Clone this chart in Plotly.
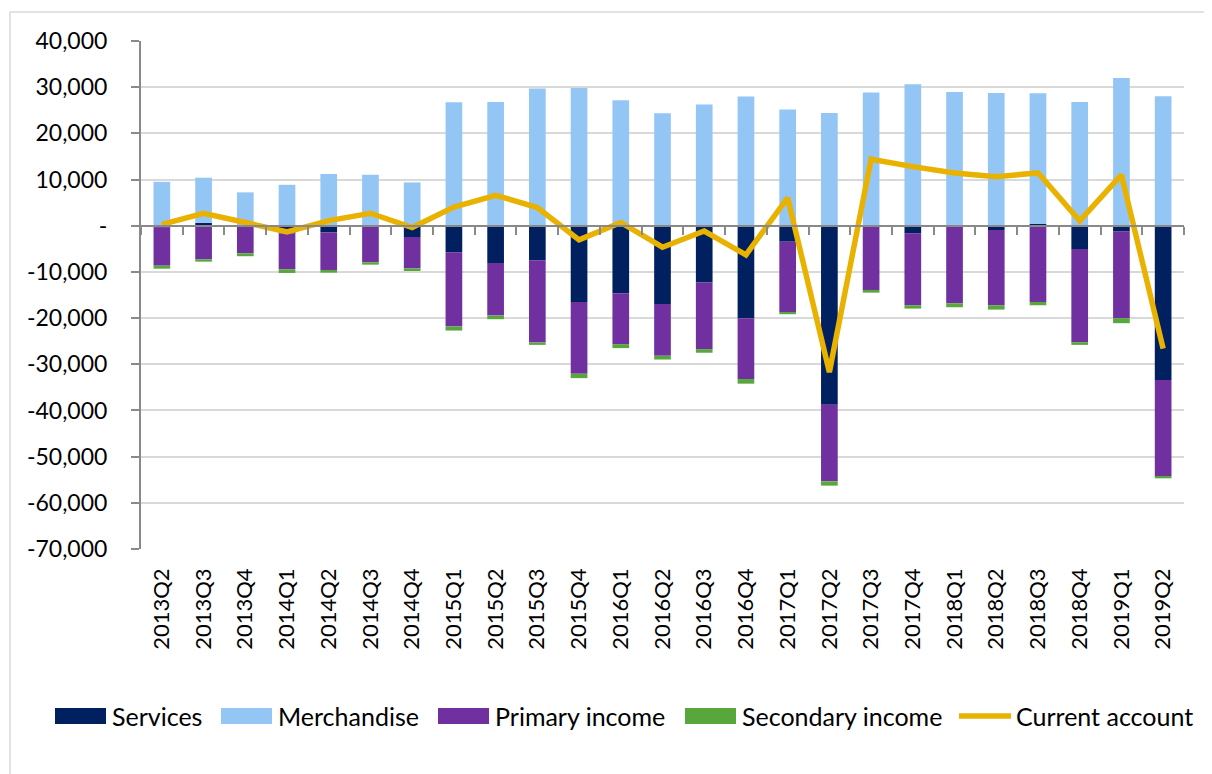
import plotly.graph_objects as go

quarters = ["2013Q2", "2013Q3", "2013Q4", "2014Q1", "2014Q2", "2014Q3", "2014Q4",
            "2015Q1", "2015Q2", "2015Q3", "2015Q4", "2016Q1", "2016Q2", "2016Q3",
            "2016Q4", "2017Q1", "2017Q2", "2017Q3", "2017Q4", "2018Q1", "2018Q2",
            "2018Q3", "2018Q4", "2019Q1", "2019Q2"]

services = [-300, 600, -100, -1700, -1430, -100, -2440, -5760, -8070, -7490, -16500,
            -14600, -16930, -12320, -20030, -3460, -38770, -100, -1650, -150, -930,
            350, -5040, -1220, -33430]

merchandise = [9500, 9800, 7220, 8860, 11180, 11030, 9380, 26750, 26800, 29700, 29840,
               27180, 24370, 26240, 27970, 25160, 24430, 28840, 30640, 28970, 28760,
               28340, 26800, 32000, 28040]

primary_income = [-8350, -7270, -5870, -7730, -8150, -7820, -6780, -16080, -11390, -17810,
                  -15560, -11050, -11240, -14410, -13170, -15270, -16580, -13800, -15570,
                  -16640, -16290, -16500, -20180, -18810, -20840]

secondary_income = [-650, -510, -630, -800, -580, -510, -580, -860, -780, -500, -940, -850,
                    -800, -770, -1000, -430, -930, -590, -720, -860, -940, -720, -580,
                    -1070, -430]

current_account = [300, 2700, 700, -1350, 1100, 2700, -400, 4050, 6600, 3950, -3050, 700,
                   -4650, -1150, -6300, 6050, -31700, 14400, 12800, 11400, 10600, 11470,
                   1050, 11000, -26600]

y_tick_values = [40000, 30000, 20000, 10000, 0, -10000, -20000, -30000, -40000,
                 -50000, -60000, -70000]
y_tick_labels = ["40,000", "30,000", "20,000", "10,000", "-", "-10,000", "-20,000",
                 "-30,000", "-40,000", "-50,000", "-60,000", "-70,000"]

series_names = ["Services", "Merchandise", "Primary income", "Secondary income",
                "Current account"]
series_colors = ["#002060", "#93C6F5", "#7030A0", "#58A73C", "#E9B200"]

Y_MIN, Y_MAX = -70000, 40000
FONT = "Lato, 'Open Sans', sans-serif"
AXIS_GREY = "#898989"

W, H = 1204, 766
ML, MR, MT, MB = 133, 28, 33, 225
PW, PH = W - ML - MR, H - MT - MB


def px(fx):
    return (fx - ML) / PW


def py(fy):
    return 1 - (fy - MT) / PH


fig = go.Figure()
bar_series = [services, merchandise, primary_income, secondary_income]
for name, vals, col in zip(series_names[:4], bar_series, series_colors[:4]):
    fig.add_trace(go.Bar(x=quarters, y=vals, name=name, marker_color=col,
                         marker_line_width=0, showlegend=False))

fig.add_trace(go.Scatter(x=quarters, y=current_account, name=series_names[4],
                         mode="lines", line=dict(color=series_colors[4], width=5.5),
                         xaxis="x2", showlegend=False))

zero_pos = (0 - Y_MIN) / (Y_MAX - Y_MIN)

# legend layout (figure pixel positions of each swatch start)
leg_x = [47, 213, 430, 677, 951]
leg_y = 708
shapes = []
annotations = []
for i, (name, col) in enumerate(zip(series_names, series_colors)):
    x0 = leg_x[i]
    if i < 4:
        shapes.append(dict(type="rect", xref="paper", yref="paper",
                           x0=px(x0), x1=px(x0 + 51), y0=py(leg_y + 8), y1=py(leg_y - 8),
                           line=dict(width=0), fillcolor=col))
    else:
        shapes.append(dict(type="line", xref="paper", yref="paper",
                           x0=px(x0), x1=px(x0 + 52), y0=py(leg_y), y1=py(leg_y),
                           line=dict(color=col, width=5.5)))
    annotations.append(dict(text=name, xref="paper", yref="paper",
                            x=px(x0 + 55), y=py(leg_y), xanchor="left", yanchor="middle",
                            showarrow=False, font=dict(size=25, color="#000000")))

shapes.append(dict(type="rect", xref="paper", yref="paper",
                   x0=px(2), x1=px(W + 20), y0=py(H + 20), y1=py(4),
                   line=dict(color="#D9D9D9", width=1.5), fillcolor="rgba(0,0,0,0)",
                   layer="below"))

fig.update_layout(
    barmode="relative",
    bargap=0.6,
    width=W, height=H,
    margin=dict(l=ML, r=MR, t=MT, b=MB, pad=0),
    paper_bgcolor="white", plot_bgcolor="white",
    font=dict(family=FONT, size=22, color="#000000"),
    showlegend=False,
    xaxis=dict(type="category", showline=False, showgrid=False, ticks="",
               tickangle=-90, tickfont=dict(size=22), ticklabelstandoff=14,
               range=[-0.5, len(quarters) - 0.5]),
    xaxis2=dict(type="category", overlaying="x", anchor="free", position=zero_pos,
                side="bottom", showline=True, linecolor=AXIS_GREY, linewidth=2,
                ticks="outside", tickson="boundaries", ticklen=8, tickwidth=2,
                tickcolor=AXIS_GREY, showticklabels=False, showgrid=False,
                range=[-0.5, len(quarters) - 0.5]),
    yaxis=dict(range=[Y_MIN, Y_MAX], tickvals=y_tick_values, ticktext=y_tick_labels,
               showgrid=True, gridcolor="#D9D9D9", gridwidth=1.5, zeroline=False,
               showline=True, linecolor=AXIS_GREY, linewidth=2, ticks="outside",
               ticklen=8, tickwidth=2, tickcolor=AXIS_GREY,
               tickfont=dict(size=23), ticklabelstandoff=19),
    shapes=shapes,
    annotations=annotations,
)

fig.write_html("out.html")
